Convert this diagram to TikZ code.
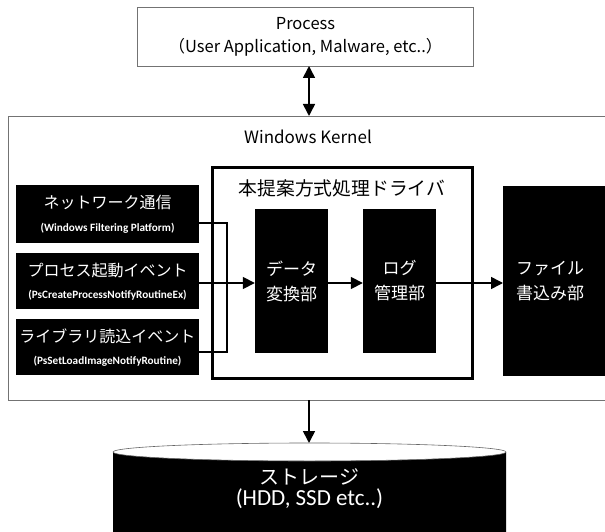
\documentclass[tikz,border=0pt]{standalone}
\usepackage{fontspec}
\setmainfont{Noto Sans CJK JP}
\newfontfamily\cjk{Noto Sans CJK JP}
\newfontfamily\carl{Carlito}
\usetikzlibrary{arrows.meta,calc}
\begin{document}
\begin{tikzpicture}[x=1pt,y=-1pt,
  blk/.style={fill=black,draw=none,text=white,align=center,inner sep=0pt},
  graybox/.style={draw=black!55,line width=0.9pt,fill=white},
  conn/.style={line width=1.6pt,draw=black},
  arr/.style={conn,-{Triangle[length=12pt,width=12pt]}},
  jt/.style={font=\cjk\fontsize{16}{19}\selectfont},
  sub/.style={font=\carl\bfseries\fontsize{11.2}{13}\selectfont}]
\useasboundingbox (0,0) rectangle (605,532);
\begin{scope}
\clip (0,0) rectangle (605,532);
% kernel box
\node[graybox,minimum width=612pt,minimum height=284pt,anchor=north west,inner sep=0pt] (kern) at (8,116) {};
\node[font=\cjk\fontsize{17}{20}\selectfont] (kt) at (308,137) {Windows Kernel};
% process box
\node[graybox,minimum width=336pt,minimum height=59pt,anchor=north west,align=center,inner sep=0pt,font=\cjk\fontsize{16.5}{23}\selectfont] (proc) at (137,7) {Process\\（User Application, Malware, etc..）};
% arrow process <-> kernel
\coordinate (pa) at (309,66);
\coordinate (ka) at (309,116);
\draw[conn,{Triangle[length=12pt,width=12pt]}-{Triangle[length=12pt,width=12pt]}] (pa) -- (ka);
% driver
\node[draw=black,line width=3pt,minimum width=260pt,minimum height=211pt,anchor=north west,inner sep=0pt] (drv) at (211,166) {};
\node[font=\cjk\fontsize{18.8}{22}\selectfont] (drvt) at (342,188) {本提案方式処理ドライバ};
% inner blocks
\node[blk,minimum width=73pt,minimum height=144pt,font=\cjk\fontsize{17}{25}\selectfont] (data) at (291.5,281) {データ\\変換部};
\node[blk,minimum width=73pt,minimum height=144pt,font=\cjk\fontsize{17}{25}\selectfont] (log) at (399.5,281) {ログ\\管理部};
\node[blk,minimum width=112pt,minimum height=190pt,anchor=north west] (file) at (503,186) {};
\node[font=\cjk\fontsize{17}{25}\selectfont,text=white,align=center] (filet) at (550,281) {ファイル\\書込み部};
% left blocks
\node[blk,minimum width=183pt,minimum height=58pt] (b1) at (107.5,214) {};
\node[jt,text=white] (b1t) at (107.5,202) {ネットワーク通信};
\node[sub,text=white] (b1s) at (107.5,228) {(Windows Filtering Platform)};
\node[blk,minimum width=183pt,minimum height=56pt] (b2) at (107.5,281) {};
\node[jt,text=white] (b2t) at (107.5,270) {プロセス起動イベント};
\node[sub,text=white] (b2s) at (107.5,295) {(PsCreateProcessNotifyRoutineEx)};
\node[blk,minimum width=183pt,minimum height=56pt] (b3) at (107.5,347) {};
\node[jt,text=white] (b3t) at (107.5,336) {ライブラリ読込イベント};
\node[sub,text=white] (b3s) at (107.5,361) {(PsSetLoadImageNotifyRoutine)};
% connectors
\coordinate (b1o) at ([yshift=-9pt]b1.east);
\coordinate (b3o) at ([yshift=-5pt]b3.east);
\coordinate (b2o) at ([yshift=-2pt]b2.east);
\coordinate (jx) at (227,0);
\draw[conn] (b1o) -| (jx |- b3o) -- (b3o);
\coordinate (din) at ([yshift=-2pt]data.west);
\coordinate (dout) at ([yshift=-2pt]data.east);
\coordinate (lin) at ([yshift=-2pt]log.west);
\coordinate (lout) at ([yshift=-2pt]log.east);
\draw[arr] (b2o) -- (din);
\draw[arr] (dout) -- (lin);
\draw[arr] (lout) -- (file.west |- lout);
% storage
\fill[black] (113,452) -- (113,545) -- (506,545) -- (506,452) arc[start angle=0,end angle=180,x radius=196.5,y radius=9];
\draw[black!60,line width=0.6pt] (309.5,452) ellipse[x radius=196.5,y radius=9];
\node[font=\cjk\fontsize{20}{24}\selectfont,text=white] (st) at (309.5,477) {ストレージ};
\node[font=\carl\fontsize{23}{26}\selectfont,text=white] (st2) at (309.5,499) {(HDD, SSD etc..)};
\coordinate (sa) at (309,400);
\coordinate (sb) at (309,443);
\draw[arr] (sa) -- (sb);
\end{scope}
\end{tikzpicture}
\end{document}
